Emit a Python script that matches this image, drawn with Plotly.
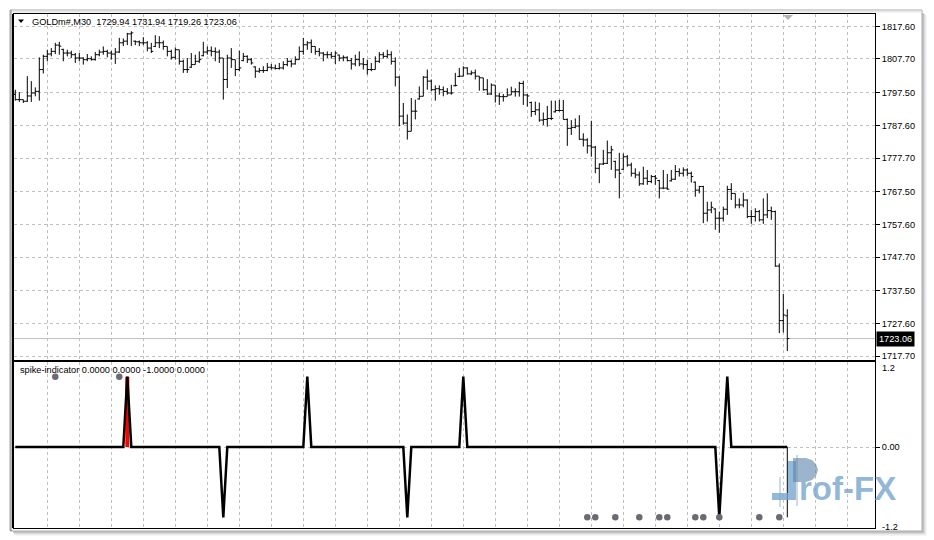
import plotly.graph_objects as go

# ---------------- data ----------------
symbol = "GOLDm#"
timeframe = "M30"

price_tick_labels = ["1817.60", "1807.70", "1797.50", "1787.60", "1777.70", "1767.50",
                     "1757.60", "1747.70", "1737.50", "1727.60", "1717.70"]

opens = [
    1797.0, 1795.4, 1795.4, 1794.9, 1796.5, 1797.4, 1797.9, 1804.5, 1808.5, 1809.2,
    1810.0, 1811.9, 1810.6, 1809.5, 1809.5, 1809.0, 1808.0, 1808.0, 1807.5, 1807.8,
    1807.5, 1809.0, 1809.8, 1810.0, 1809.5, 1809.2, 1809.8, 1812.6, 1813.1, 1815.3,
    1813.1, 1812.9, 1812.6, 1812.6, 1811.0, 1811.5, 1812.6, 1812.6, 1811.5, 1810.0,
    1808.2, 1810.5, 1807.0, 1804.5, 1805.2, 1806.0, 1807.0, 1808.7, 1809.8, 1810.2,
    1810.0, 1809.8, 1808.0, 1801.5, 1808.0, 1807.5, 1804.5, 1807.2, 1808.5, 1807.5,
    1805.3, 1804.0, 1804.2, 1804.2, 1805.2, 1805.0, 1804.8, 1805.0, 1806.0, 1807.0,
    1806.2, 1807.5, 1810.0, 1812.0, 1812.6, 1811.5, 1810.0, 1809.5, 1809.0, 1809.0,
    1808.5, 1808.9, 1808.0, 1808.2, 1807.2, 1806.2, 1807.5, 1806.2, 1806.0, 1804.5,
    1804.5, 1807.0, 1809.0, 1808.5, 1809.0, 1807.0, 1802.2, 1790.4, 1788.3, 1785.8,
    1791.9, 1795.6, 1796.4, 1802.2, 1801.0, 1798.4, 1798.7, 1798.4, 1797.9, 1797.4,
    1799.6, 1802.4, 1802.5, 1805.0, 1803.2, 1803.5, 1802.5, 1802.0, 1798.4, 1797.1,
    1799.8, 1796.5, 1796.3, 1796.3, 1796.8, 1797.8, 1797.8, 1800.3, 1796.8, 1794.5,
    1791.8, 1792.3, 1789.2, 1789.4, 1789.7, 1791.7, 1792.1, 1792.1, 1789.4, 1786.7,
    1787.0, 1787.4, 1783.4, 1783.2, 1781.4, 1781.0, 1774.6, 1775.9, 1776.1, 1779.3,
    1776.7, 1774.1, 1774.3, 1778.1, 1775.6, 1773.1, 1772.6, 1769.9, 1771.6, 1770.6,
    1772.1, 1770.9, 1768.6, 1768.6, 1770.8, 1771.3, 1773.6, 1773.1, 1774.1, 1773.1,
    1770.4, 1768.0, 1769.1, 1761.0, 1762.0, 1762.3, 1759.5, 1759.5, 1762.2, 1768.2,
    1767.0, 1763.5, 1763.5, 1765.0, 1760.0, 1760.0, 1761.5, 1759.0, 1760.5, 1761.8,
    1761.5, 1745.0, 1728.5, 1729.94,
]

highs = [
    1798.4, 1797.7, 1795.4, 1802.5, 1801.0, 1799.1, 1808.2, 1809.0, 1810.5, 1811.0,
    1812.6, 1812.9, 1810.8, 1810.5, 1810.2, 1809.5, 1809.5, 1808.2, 1809.2, 1808.5,
    1809.8, 1810.5, 1811.5, 1810.5, 1810.2, 1811.0, 1814.1, 1813.9, 1815.6, 1816.1,
    1813.3, 1813.3, 1814.3, 1813.1, 1812.6, 1814.9, 1814.6, 1813.3, 1811.5, 1810.5,
    1811.2, 1810.5, 1807.5, 1808.0, 1809.5, 1809.0, 1810.0, 1812.9, 1811.5, 1811.5,
    1811.2, 1810.5, 1808.0, 1809.0, 1811.0, 1807.5, 1810.2, 1809.5, 1808.8, 1808.0,
    1805.5, 1805.0, 1805.5, 1806.5, 1806.2, 1806.0, 1806.5, 1807.0, 1808.0, 1807.5,
    1808.5, 1811.5, 1814.1, 1813.1, 1813.6, 1811.5, 1811.0, 1809.8, 1810.0, 1809.8,
    1810.0, 1809.0, 1808.8, 1808.5, 1808.0, 1809.0, 1810.0, 1808.0, 1807.5, 1806.5,
    1808.5, 1809.8, 1809.8, 1810.5, 1810.0, 1808.2, 1802.5, 1794.4, 1790.9, 1795.9,
    1795.4, 1799.4, 1802.5, 1804.5, 1801.5, 1799.7, 1799.7, 1799.4, 1798.9, 1799.9,
    1803.5, 1805.0, 1805.5, 1805.2, 1804.2, 1804.5, 1802.5, 1802.0, 1801.6, 1800.3,
    1799.8, 1797.5, 1797.1, 1798.8, 1799.3, 1798.8, 1800.8, 1801.1, 1797.1, 1794.8,
    1794.8, 1794.5, 1791.5, 1793.5, 1795.1, 1795.1, 1795.3, 1795.3, 1789.7, 1789.2,
    1789.7, 1790.7, 1785.2, 1783.7, 1789.0, 1781.4, 1776.1, 1780.2, 1783.0, 1781.4,
    1776.9, 1779.3, 1779.1, 1778.6, 1776.3, 1774.6, 1773.6, 1775.1, 1774.1, 1772.6,
    1772.6, 1771.1, 1774.1, 1772.9, 1774.1, 1775.6, 1774.6, 1774.9, 1774.6, 1773.6,
    1770.6, 1769.3, 1769.3, 1764.5, 1764.5, 1762.5, 1761.5, 1763.0, 1769.3, 1770.1,
    1767.0, 1765.5, 1767.2, 1765.2, 1762.0, 1762.5, 1762.0, 1765.5, 1767.0, 1763.0,
    1761.8, 1745.8, 1736.6, 1731.94,
]

lows = [
    1795.1, 1794.7, 1794.4, 1794.7, 1794.7, 1796.4, 1795.1, 1803.3, 1807.0, 1808.5,
    1809.2, 1809.0, 1807.0, 1808.5, 1808.0, 1806.5, 1807.0, 1806.0, 1807.0, 1807.2,
    1807.2, 1808.5, 1809.0, 1808.2, 1807.5, 1806.2, 1809.5, 1811.6, 1811.9, 1811.6,
    1811.9, 1811.6, 1811.9, 1810.0, 1809.5, 1811.3, 1811.0, 1810.5, 1808.5, 1807.5,
    1807.5, 1806.0, 1803.5, 1803.5, 1805.0, 1806.0, 1806.5, 1808.5, 1809.0, 1808.5,
    1807.0, 1806.5, 1795.4, 1798.9, 1805.0, 1802.5, 1804.0, 1807.0, 1806.5, 1806.0,
    1802.0, 1803.5, 1803.5, 1804.0, 1804.5, 1804.5, 1804.5, 1804.5, 1805.5, 1805.2,
    1806.0, 1807.5, 1809.0, 1810.5, 1809.5, 1809.0, 1808.5, 1807.0, 1808.0, 1807.8,
    1806.2, 1807.0, 1807.0, 1807.0, 1804.5, 1805.5, 1805.5, 1804.5, 1803.0, 1804.0,
    1804.5, 1806.5, 1807.8, 1808.0, 1806.0, 1799.4, 1787.3, 1787.8, 1783.3, 1785.8,
    1789.4, 1795.4, 1796.4, 1798.4, 1797.9, 1795.1, 1796.9, 1796.4, 1796.9, 1796.9,
    1799.4, 1802.2, 1802.5, 1803.0, 1802.8, 1801.5, 1798.1, 1798.1, 1796.8, 1796.8,
    1794.5, 1793.8, 1794.8, 1796.3, 1796.8, 1796.3, 1796.3, 1793.8, 1793.3, 1790.2,
    1790.7, 1788.7, 1787.7, 1787.2, 1789.2, 1791.5, 1791.8, 1789.4, 1781.4, 1784.7,
    1786.7, 1783.2, 1781.2, 1779.1, 1778.1, 1773.1, 1770.1, 1775.6, 1775.9, 1774.1,
    1771.6, 1765.5, 1774.1, 1775.1, 1772.1, 1771.6, 1769.3, 1769.6, 1769.6, 1770.1,
    1769.6, 1765.5, 1768.3, 1768.1, 1770.6, 1771.1, 1772.1, 1772.1, 1772.3, 1770.3,
    1766.0, 1767.0, 1758.0, 1758.5, 1761.0, 1756.0, 1755.1, 1758.5, 1760.5, 1765.0,
    1762.5, 1762.5, 1762.8, 1759.5, 1757.8, 1758.5, 1758.5, 1757.8, 1759.5, 1759.0,
    1744.8, 1724.7, 1724.9, 1719.26,
]

closes = [
    1795.4, 1795.4, 1794.9, 1796.5, 1797.4, 1797.9, 1804.5, 1808.5, 1809.2, 1810.0,
    1811.9, 1811.6, 1809.5, 1809.5, 1809.0, 1808.0, 1808.0, 1807.5, 1807.8, 1807.5,
    1809.0, 1809.8, 1810.0, 1809.5, 1809.2, 1809.8, 1812.6, 1813.1, 1815.3, 1815.6,
    1812.9, 1812.6, 1812.6, 1811.0, 1810.0, 1812.6, 1812.6, 1811.5, 1810.0, 1808.2,
    1810.5, 1807.0, 1804.5, 1804.5, 1806.0, 1807.0, 1807.5, 1809.8, 1810.2, 1810.0,
    1809.8, 1808.0, 1801.5, 1808.0, 1807.5, 1804.5, 1805.0, 1808.5, 1807.5, 1806.5,
    1804.0, 1804.2, 1804.2, 1805.2, 1805.0, 1804.8, 1805.0, 1806.0, 1807.0, 1806.2,
    1807.5, 1810.0, 1812.0, 1812.6, 1811.5, 1810.0, 1809.5, 1809.0, 1809.0, 1808.5,
    1809.5, 1808.0, 1808.2, 1807.2, 1806.2, 1807.5, 1806.2, 1806.0, 1804.5, 1804.5,
    1807.0, 1809.0, 1808.5, 1809.0, 1807.0, 1802.2, 1790.4, 1788.3, 1785.8, 1791.9,
    1791.9, 1796.4, 1802.2, 1801.0, 1798.4, 1798.7, 1798.4, 1797.9, 1797.4, 1797.4,
    1799.7, 1802.5, 1805.0, 1803.2, 1803.5, 1802.5, 1802.0, 1798.4, 1797.1, 1799.8,
    1796.5, 1796.3, 1796.3, 1796.8, 1797.8, 1797.8, 1800.3, 1796.8, 1796.5, 1791.8,
    1792.3, 1789.2, 1789.4, 1789.7, 1789.7, 1792.1, 1792.1, 1789.4, 1786.7, 1787.0,
    1787.4, 1783.4, 1783.2, 1781.4, 1781.0, 1774.6, 1775.9, 1776.1, 1779.3, 1780.2,
    1774.1, 1773.1, 1778.1, 1775.6, 1773.1, 1772.6, 1769.9, 1771.6, 1770.6, 1772.1,
    1771.6, 1768.6, 1768.6, 1768.3, 1771.3, 1773.6, 1773.1, 1774.1, 1773.1, 1772.1,
    1768.0, 1769.1, 1761.0, 1762.0, 1762.8, 1759.5, 1759.5, 1762.2, 1768.2, 1767.0,
    1763.5, 1763.5, 1765.0, 1760.0, 1760.0, 1761.5, 1759.0, 1760.5, 1761.8, 1761.5,
    1745.0, 1728.5, 1730.2, 1723.06,
]

# indicator buffers (non-zero entries only; every other bar is 0)
indicator_name = "spike-indicator"
indicator_status_values = [0.0, 0.0, -1.0, 0.0]
indicator_tick_labels = ["1.2", "0.00", "-1.2"]
spike_bars = [28, 52, 73, 98, 112, 176, 178]
spike_values = [1.0, -1.0, 1.0, -1.0, 1.0, -1.0, 1.0]
red_hist_bars = [28]
red_hist_values = [1.0]
black_hist_bars = [193]
black_hist_values = [-1.0]
dot_up_bars = [10, 26]
dot_down_bars = [143, 145, 150, 156, 161, 163, 170, 172, 176, 186, 191]

# ---------------- build ----------------
n = len(closes)
bars = list(range(n))
spike_line = [0.0] * n
for b, v in zip(spike_bars, spike_values):
    spike_line[b] = v

W, H = 934, 540


def fx(px):
    return px / W


def fy(py):
    return 1 - py / H


FONT = "Liberation Sans, Arial, sans-serif"
FS = 9.2
GRID = dict(showgrid=True, gridcolor="#c0c0c0", griddash="3px,3px", gridwidth=1,
            zeroline=False, fixedrange=True, automargin=False)

fig = go.Figure()

fig.add_trace(go.Ohlc(
    x=bars, open=opens, high=highs, low=lows, close=closes,
    increasing=dict(line=dict(color="black", width=1)),
    decreasing=dict(line=dict(color="black", width=1)),
    tickwidth=0.5, xaxis="x", yaxis="y", hoverinfo="skip", showlegend=False,
))

fig.add_trace(go.Bar(
    x=red_hist_bars, y=red_hist_values, width=1.0,
    marker=dict(color="#ff0000", line=dict(width=0)),
    xaxis="x2", yaxis="y2", hoverinfo="skip", showlegend=False,
))
# thin black histogram buffer (1px stems from 0 to value)
hx, hy = [], []
for b, v in zip(black_hist_bars, black_hist_values):
    hx += [b, b, None]
    hy += [0.0, v, None]
fig.add_trace(go.Scatter(
    x=hx, y=hy, mode="lines", line=dict(color="black", width=1),
    xaxis="x2", yaxis="y2", hoverinfo="skip", showlegend=False,
))
fig.add_trace(go.Scatter(
    x=bars, y=spike_line, mode="lines",
    line=dict(color="black", width=2.5),
    xaxis="x2", yaxis="y2", hoverinfo="skip", showlegend=False,
))
fig.add_trace(go.Scatter(
    x=dot_up_bars + dot_down_bars,
    y=[1.0] * len(dot_up_bars) + [-1.0] * len(dot_down_bars),
    mode="markers", marker=dict(color="#6b6b74", size=6.5),
    xaxis="x2", yaxis="y2", hoverinfo="skip", showlegend=False,
))

x_range = [-0.325, 214.925]
vgrid = list(range(8, 215, 8))
frame = dict(showline=True, mirror=True, linecolor="black", linewidth=1)

last = n - 1
header = f"{symbol},{timeframe}  {opens[last]:.2f} {highs[last]:.2f} {lows[last]:.2f} {closes[last]:.2f}"
ind_title = indicator_name + " " + " ".join(f"{v:.4f}" for v in indicator_status_values)

fig.update_layout(
    width=W, height=H, template="none",
    margin=dict(l=0, r=0, t=0, b=0, pad=0, autoexpand=False),
    paper_bgcolor="white", plot_bgcolor="white",
    barmode="overlay", showlegend=False,
    xaxis=dict(domain=[fx(14), fx(875)], range=x_range, tickvals=vgrid,
               showticklabels=False, ticks="", anchor="y",
               rangeslider=dict(visible=False), **frame, **GRID),
    yaxis=dict(domain=[fy(359.5), fy(14)], range=[1716.72, 1821.32], side="right",
               anchor="x", tickvals=[float(t) for t in price_tick_labels],
               ticktext=price_tick_labels, ticks="outside", ticklen=4,
               tickcolor="black", tickfont=dict(family=FONT, size=FS, color="black"),
               **frame, **GRID),
    xaxis2=dict(domain=[fx(14), fx(875)], range=x_range, tickvals=vgrid,
                showticklabels=False, ticks="", anchor="y2", **frame, **GRID),
    yaxis2=dict(domain=[fy(528), fy(361.5)], range=[-1.152, 1.216], side="right",
                anchor="x2", tickvals=[0.0], ticktext=[indicator_tick_labels[1]],
                ticks="outside", ticklen=4, tickcolor="black",
                tickfont=dict(family=FONT, size=FS, color="black"),
                **frame, **GRID),
)

shapes = []
# current price line
shapes.append(dict(type="line", xref="x domain", yref="y", x0=0, x1=1,
                   y0=closes[last], y1=closes[last],
                   line=dict(color="#c0c0c0", width=1), layer="below"))
# window frame & shadows
shapes.append(dict(type="rect", xref="paper", yref="paper", x0=fx(10), x1=fx(922),
                   y0=fy(531), y1=fy(10), line=dict(color="#a8a8a8", width=1)))
for off, col in [(1, "#9a9a9a"), (2, "#b8b8b8"), (3, "#d4d4d4"), (4, "#ececec")]:
    shapes.append(dict(type="line", xref="paper", yref="paper",
                       x0=fx(922 + off), x1=fx(922 + off), y0=fy(531 + off), y1=fy(12 + off),
                       line=dict(color=col, width=1)))
    shapes.append(dict(type="line", xref="paper", yref="paper",
                       x0=fx(12 + off), x1=fx(922 + off), y0=fy(531 + off), y1=fy(531 + off),
                       line=dict(color=col, width=1)))
for yy, col in [(11, "#d8d8d8"), (12, "#e6e6e6")]:
    shapes.append(dict(type="line", xref="paper", yref="paper", x0=fx(10), x1=fx(922),
                       y0=fy(yy), y1=fy(yy), line=dict(color=col, width=1)))
shapes.append(dict(type="line", xref="paper", yref="paper", x0=fx(11), x1=fx(11),
                   y0=fy(531), y1=fy(10), line=dict(color="#808080", width=1)))
shapes.append(dict(type="line", xref="paper", yref="paper", x0=fx(13), x1=fx(13),
                   y0=fy(528), y1=fy(14), line=dict(color="black", width=2)))


def path(pts):
    return "M " + " L ".join(f"{fx(a):.5f},{fy(b):.5f}" for a, b in pts) + " Z"


# header triangle and shift marker
shapes.append(dict(type="path", xref="paper", yref="paper",
                   path=path([(18, 19.5), (24, 19.5), (21, 23)]),
                   fillcolor="black", line=dict(width=0)))
shapes.append(dict(type="path", xref="paper", yref="paper",
                   path=path([(783, 15), (793, 15), (788, 20)]),
                   fillcolor="#b4b4b4", line=dict(width=0)))

# Prof-FX watermark
logo = "rgba(118,164,204,0.78)"
logo_dark = "rgba(90,130,170,0.6)"
shapes.append(dict(type="rect", xref="paper", yref="paper", x0=fx(772), x1=fx(788),
                   y0=fy(500), y1=fy(493), fillcolor=logo, line=dict(width=0), layer="above"))
shapes.append(dict(type="line", xref="paper", yref="paper", x0=fx(780), x1=fx(780),
                   y0=fy(507), y1=fy(477), line=dict(color=logo, width=1), layer="above"))
shapes.append(dict(type="rect", xref="paper", yref="paper", x0=fx(788), x1=fx(796),
                   y0=fy(500), y1=fy(461), fillcolor=logo, line=dict(width=0), layer="above"))
shapes.append(dict(type="line", xref="paper", yref="paper", x0=fx(797), x1=fx(797),
                   y0=fy(506), y1=fy(455), line=dict(color=logo, width=1), layer="above"))
shapes.append(dict(type="path", xref="paper", yref="paper",
                   path=path([(793, 458), (806, 458), (812, 460), (816, 464), (818, 470),
                              (816, 476), (812, 480), (806, 482), (793, 482)]),
                   fillcolor=logo_dark, line=dict(width=0), layer="above"))

fig.update_layout(shapes=shapes)

ann = []
ann.append(dict(text=header, xref="paper", yref="paper", x=fx(30), y=fy(22.5),
                xanchor="left", yanchor="middle", showarrow=False,
                font=dict(family=FONT, size=FS, color="black")))
ann.append(dict(text=ind_title, xref="paper", yref="paper", x=fx(18), y=fy(370),
                xanchor="left", yanchor="middle", showarrow=False,
                font=dict(family=FONT, size=FS, color="black")))
ann.append(dict(text=indicator_tick_labels[0], xref="paper", yref="paper", x=fx(880), y=fy(368),
                xanchor="left", yanchor="middle", showarrow=False,
                font=dict(family=FONT, size=FS, color="black")))
ann.append(dict(text=indicator_tick_labels[2], xref="paper", yref="paper", x=fx(880), y=fy(527),
                xanchor="left", yanchor="middle", showarrow=False,
                font=dict(family=FONT, size=FS, color="black")))
ann.append(dict(text=f"{closes[last]:.2f}", xref="paper", yref="y", x=fx(876), y=closes[last],
                xanchor="left", yanchor="middle", showarrow=False, bgcolor="black",
                borderpad=2, font=dict(family=FONT, size=FS, color="white")))
ann.append(dict(text="<b>rof-FX</b>", xref="paper", yref="paper", x=fx(797), y=fy(488),
                xanchor="left", yanchor="middle", showarrow=False,
                font=dict(family=FONT, size=33, color=logo)))
fig.update_layout(annotations=ann)

fig.write_html(
    "out.html",
    config={"displayModeBar": False},
    post_script="document.body.style.margin='0';document.body.style.padding='0';",
)
